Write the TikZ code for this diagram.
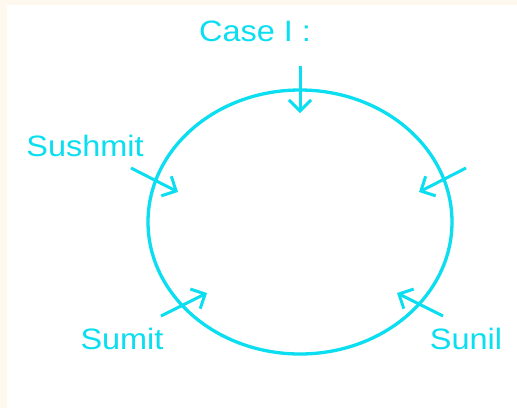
\documentclass[tikz,border=0pt]{standalone}
\usepackage{fontspec}
\setmainfont{Liberation Sans}
\usetikzlibrary{positioning,shapes.geometric,arrows.meta}
\definecolor{mycyan}{RGB}{10,222,240}
\definecolor{mycream}{RGB}{255,248,238}
\newfontfamily\seatfont[FakeStretch=1.1]{Liberation Sans}

\begin{document}
\begin{tikzpicture}[x=1pt,y=-1pt,
		seat/.style={
		  text=mycyan,
		  inner sep=0pt,
		  font={\seatfont\fontsize{29.5}{34}\selectfont}},
		pointer/.style={
		  draw=mycyan,
		  line width=3pt,
		  -{Straight Barb[length=11pt,width=22pt]}},
		]
		\useasboundingbox (0,0) rectangle (517,408);
		\fill[mycream] (0,0) rectangle (517,408);
		\fill[white] (7,5) rectangle (517,408);
		\node[draw=mycyan,line width=3.3pt,ellipse,inner sep=0pt,
		  minimum width=304pt,minimum height=264pt] (Tab) at (300,222) {};
		\node[seat] (Cas) at (255,31) {Case I :};
		\node[seat] (Sus) at (85,146) {Sushmit};
		\node[seat] (Sum) at (122,339) {Sumit};
		\node[seat] (Sun) at (466,339) {Sunil};
		% arrows pointing to the seats
		\coordinate (TopS) at (300,66);
		\coordinate (TopE) at (300,113);
		\coordinate (SusS) at (131,168);
		\coordinate (SusE) at (178,192);
		\coordinate (RigS) at (466,168);
		\coordinate (RigE) at (419,192);
		\coordinate (SumS) at (161,316);
		\coordinate (SumE) at (207,293);
		\coordinate (SunS) at (443,316);
		\coordinate (SunE) at (397,293);
		\draw[pointer] (TopS) -- (TopE);
		\draw[pointer] (SusS) -- (SusE);
		\draw[pointer] (RigS) -- (RigE);
		\draw[pointer] (SumS) -- (SumE);
		\draw[pointer] (SunS) -- (SunE);
\end{tikzpicture}
\end{document}
